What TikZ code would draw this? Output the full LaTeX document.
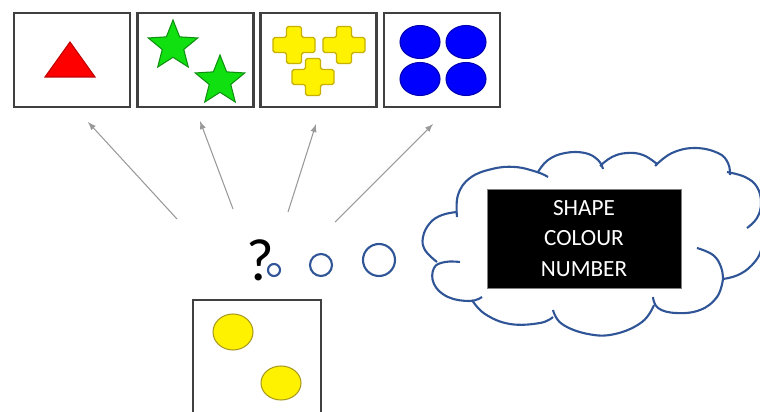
\documentclass[tikz,border=0pt]{standalone}
\usepackage{fontspec}
\setmainfont{Carlito}
\usetikzlibrary{shapes.geometric}
\definecolor{cloudblue}{HTML}{2F5597}
\definecolor{cardgrey}{HTML}{404040}
\definecolor{starfill}{HTML}{10E010}
\definecolor{stardraw}{HTML}{109010}
\definecolor{crossdraw}{HTML}{C8B000}
\definecolor{dotdraw}{HTML}{A89A20}

% one plus sign, centred on #1
\newcommand{\plusshape}[1]{%
  \filldraw[crossmark, shift={#1}] (-7.5,-18.5) -- (7.5,-18.5) -- (7.5,-7.5) -- (21,-7.5)
    -- (21,7.5) -- (7.5,7.5) -- (7.5,18.5) -- (-7.5,18.5) -- (-7.5,7.5) -- (-21,7.5)
    -- (-21,-7.5) -- (-7.5,-7.5) -- cycle;}

\begin{document}
\begin{tikzpicture}[x=0.02cm, y=-0.02cm,
    card/.style={draw=cardgrey, line width=1.4pt, minimum width=2.32cm, minimum height=1.88cm, inner sep=0pt},
    pointer/.style={draw=gray!80, line width=0.6pt, -latex},
    greenstar/.style={star, star points=5, star point ratio=2.3, minimum size=1.04cm, inner sep=0pt, fill=starfill, draw=stardraw, line width=0.6pt},
    crossmark/.style={fill=yellow, draw=crossdraw, line width=0.8pt, rounded corners=1pt},
    bluedot/.style={fill=blue, draw=blue!70!black, line width=0.6pt},
    yellowdot/.style={fill=yellow, draw=dotdraw, line width=0.6pt},
    bubble/.style={draw=cloudblue, line width=1.2pt},
    keybox/.style={fill=black, draw=gray, line width=0.4pt, text=white, align=center, minimum width=3.88cm, minimum height=1.98cm, font=\fontsize{13.2}{17.6}\selectfont}]

    \useasboundingbox (0,0) rectangle (760,412);
    \clip (0,0) rectangle (760,412);

    % Cards on top
    \node[card] (shape1) at (72,60) {};
    \node[card] (shape2) at (195.5,60) {};
    \node[card] (shape3) at (318.5,60) {};
    \node[card] (shape4) at (442,60) {};

    % Triangle
    \filldraw[fill=red, draw=red!75!black, line width=0.6pt] (45,77) -- (95,77) -- (70,42) -- cycle;

    % Stars
    \node[greenstar] (star1) at (173,46) {};
    \node[greenstar] (star2) at (220,81) {};

    % Crosses
    \plusshape{(294,45)}
    \plusshape{(344,45)}
    \plusshape{(313,77)}

    % Dots
    \foreach \cx in {420,466}
      \foreach \cy in {42,79}
        \filldraw[bluedot] (\cx,\cy) ellipse (20 and 16.5);

    % Card to sort
    \node[card, line width=1.1pt, minimum width=2.56cm, minimum height=2.6cm, anchor=north] (sample) at (257,299) {};
    \filldraw[yellowdot] (233,332) ellipse (20 and 18);
    \filldraw[yellowdot] (281,383) ellipse (20 and 17);

    % Arrows
    \coordinate (from1) at (177,219);
    \coordinate (from2) at (233,209);
    \coordinate (from3) at (288,212);
    \coordinate (from4) at (335,222);
    \coordinate (to1) at (88,122);
    \coordinate (to2) at (200,121);
    \coordinate (to3) at (316,124);
    \coordinate (to4) at (433,124);
    \foreach \i in {1,...,4}
      \draw[pointer] (from\i) -- (to\i);

    % Question
    \node[inner sep=0pt, font=\fontsize{34}{36}\selectfont] (query) at (260,260) {?};

    % Thought bubbles
    \draw[bubble] (274,270) circle (6);
    \draw[bubble] (321,265) circle (11);
    \draw[bubble] (379,260) circle (16);

    % Cloud
    \draw[bubble] plot[smooth, tension=0.7] coordinates {(437,262) (425,250) (423,237) (430,223) (442,215) (457,212)};
    \draw[bubble] plot[smooth, tension=0.7] coordinates {(457,217) (458,195) (470,178) (492,169) (515,167) (537,172) (548,177)};
    \draw[bubble] plot[smooth, tension=0.7] coordinates {(538,172) (548,160) (565,153) (585,153) (598,160) (603,169)};
    \draw[bubble] plot[smooth, tension=0.7] coordinates {(600,166) (612,157) (627,153) (643,155) (657,164)};
    \draw[bubble] plot[smooth, tension=0.7] coordinates {(655,166) (672,153) (695,148) (718,153) (728,163) (730,175)};
    \draw[bubble] plot[smooth, tension=0.7] coordinates {(727,172) (745,177) (757,187) (761,203) (757,218) (747,228)};
    \draw[bubble] plot[smooth, tension=0.7] coordinates {(762,228) (761,250) (752,265) (738,275) (723,279)};
    \draw[bubble] plot[smooth, tension=0.7] coordinates {(697,248) (713,255) (721,267) (723,279)};
    \draw[bubble] plot[smooth, tension=0.7] coordinates {(723,279) (717,297) (700,310) (676,313) (658,308) (653,297)};
    \draw[bubble] plot[smooth, tension=0.7] coordinates {(654,305) (642,322) (615,334) (588,334) (562,324) (553,310)};
    \draw[bubble] plot[smooth, tension=0.7] coordinates {(553,317) (540,323) (510,324) (485,314) (472,300)};
    \draw[bubble] plot[smooth, tension=0.7] coordinates {(482,297) (470,301) (448,297) (434,284) (434,268) (445,262) (460,262)};

    % Rules
    \node[keybox] (cues) at (584,238.5) {SHAPE\\COLOUR\\NUMBER};

\end{tikzpicture}
\end{document}
